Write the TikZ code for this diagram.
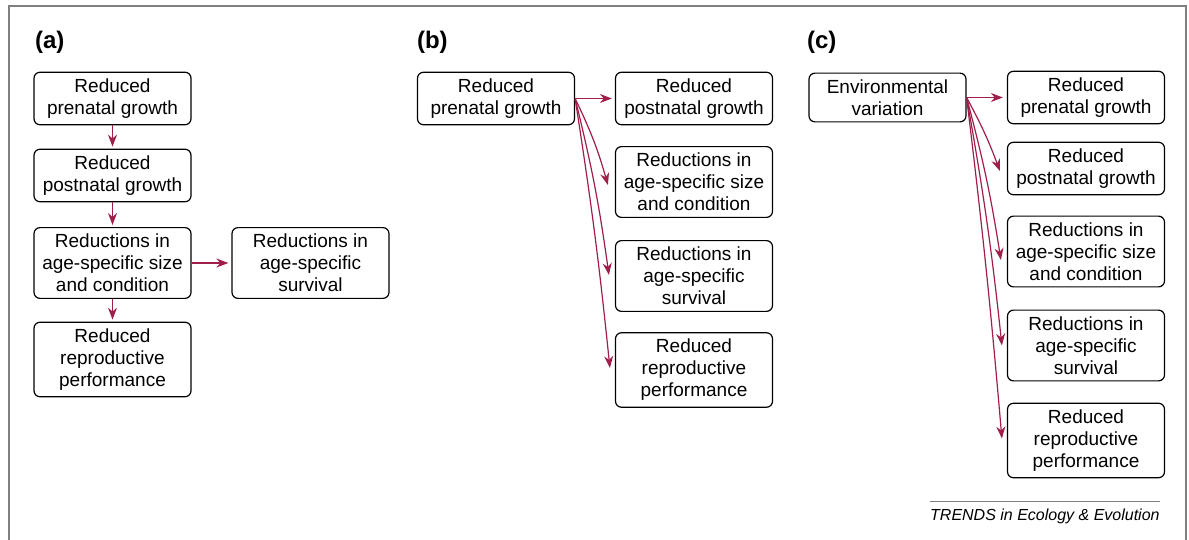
\documentclass[tikz,border=0pt]{standalone}
\usepackage{fontspec}
\setmainfont{Liberation Sans}
\usetikzlibrary{arrows.meta,positioning}
\definecolor{crimson}{HTML}{A01E4A}
\definecolor{framegray}{HTML}{808080}
\tikzset{
  stagebox/.style={
    rectangle, rounded corners=3pt, draw=black, line width=0.6pt,
    minimum width=78.5pt, align=center, inner xsep=2pt, inner ysep=3.2pt,
    font=\fontsize{9.5}{11}\selectfont
  },
  effectarrow/.style={
    -{Stealth[length=6pt,width=4.5pt]}, line width=0.6pt, color=crimson
  },
  panellabel/.style={
    anchor=west, font=\fontsize{12}{14}\selectfont\bfseries
  },
}
\begin{document}
\begin{tikzpicture}[x=0.5pt, y=-0.5pt]
  \useasboundingbox (0,0) rectangle (1189,540);
  % Frame
  \draw[framegray, line width=0.6pt] (9,540) |- (1186,6) -- (1186,540);

  % Panel labels
  \node[panellabel] (la) at (28,42) {(a)};
  \node[panellabel] (lb) at (410,42) {(b)};
  \node[panellabel] (lc) at (800,42) {(c)};

  % Panel (a)
  \node[stagebox] (a1) at (112.5,98.5) {Reduced\\prenatal growth};
  \node[stagebox] (a2) at (112.5,175.5) {Reduced\\postnatal growth};
  \node[stagebox] (a3) at (112.5,263) {Reductions in\\age-specific size\\and condition};
  \node[stagebox] (a4) at (310.5,263) {Reductions in\\age-specific\\survival};
  \node[stagebox] (a5) at (112.5,359.5) {Reduced\\reproductive\\performance};
  \draw[effectarrow, shorten >=1pt] (a1) -- (a2);
  \draw[effectarrow, shorten >=1pt] (a2) -- (a3);
  \draw[effectarrow, shorten >=1.5pt] (a3) -- (a4);
  \draw[effectarrow, shorten >=1pt] (a3) -- (a5);

  % Panel (b)
  \node[stagebox] (b0) at (496,98.5) {Reduced\\prenatal growth};
  \node[stagebox] (b1) at (694,98.5) {Reduced\\postnatal growth};
  \node[stagebox] (b2) at (694,182) {Reductions in\\age-specific size\\and condition};
  \node[stagebox] (b3) at (694,276) {Reductions in\\age-specific\\survival};
  \node[stagebox] (b4) at (694,370) {Reduced\\reproductive\\performance};
  \draw[effectarrow, shorten >=1.5pt] (b0.east) -- (b1.west);
  \draw[effectarrow] (b0.east) to[bend left=5] ([shift={(-7,3)}]b2.west);
  \draw[effectarrow] (b0.east) to[bend left=3] ([shift={(-6,-1)}]b3.west);
  \draw[effectarrow] (b0.east) to[bend left=1.5] ([shift={(-5,-2)}]b4.west);

  % Panel (c)
  \node[stagebox] (c0) at (887.5,97.5) {Environmental\\variation};
  \node[stagebox] (c1) at (1086,97.5) {Reduced\\prenatal growth};
  \node[stagebox] (c2) at (1086,168.5) {Reduced\\postnatal growth};
  \node[stagebox] (c3) at (1086,251.5) {Reductions in\\age-specific size\\and condition};
  \node[stagebox] (c4) at (1086,345.5) {Reductions in\\age-specific\\survival};
  \node[stagebox] (c5) at (1086,440.5) {Reduced\\reproductive\\performance};
  \draw[effectarrow, shorten >=2pt] (c0.east) -- (c1.west);
  \draw[effectarrow] (c0.east) to[bend left=4] ([shift={(-7,2.5)}]c2.west);
  \draw[effectarrow] (c0.east) to[bend left=3] ([shift={(-6,8.5)}]c3.west);
  \draw[effectarrow] (c0.east) to[bend left=2] ([shift={(-5,0)}]c4.west);
  \draw[effectarrow] (c0.east) to[bend left=1] ([shift={(-5,-2)}]c5.west);

  % Source line
  \node[anchor=east, inner sep=0pt, font=\fontsize{8}{10}\selectfont\itshape] (credit) at (1160,516) {TRENDS in Ecology \& Evolution};
  \draw[framegray, line width=0.5pt] ([yshift=3.5pt]credit.north west) -- ([yshift=3.5pt]credit.north east);
\end{tikzpicture}
\end{document}
